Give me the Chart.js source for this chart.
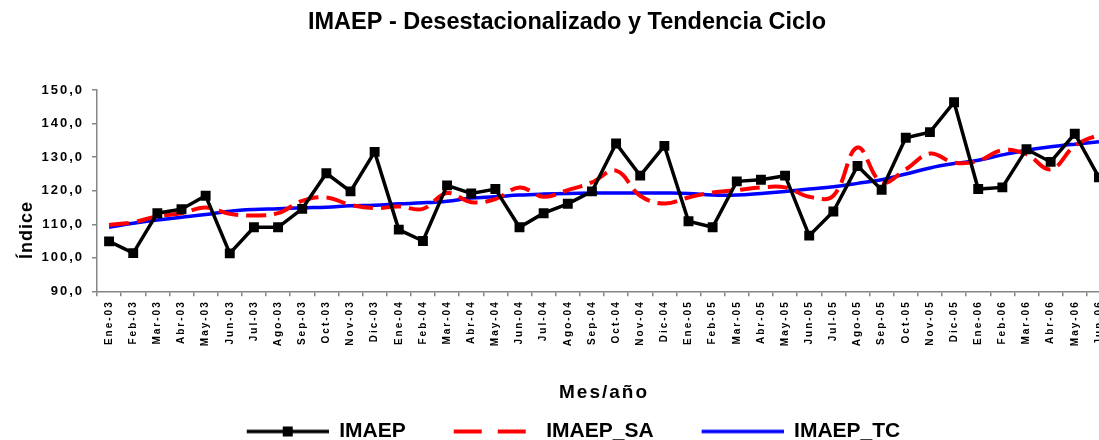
<!DOCTYPE html>
<html lang="es">
<head>
<meta charset="utf-8">
<title>IMAEP</title>
<script src="https://cdn.jsdelivr.net/npm/chart.js"></script>
<style>
  body { margin: 0; background: #fff; }
  #marco { width: 1099px; height: 440px; overflow: hidden; }
</style>
</head>
<body>
<div id="marco">
  <canvas id="g1" width="1134" height="452"></canvas>
</div>
<script>
 // Categorías (mes/año)
 const etiquetas = [
     'Ene-03', 'Feb-03', 'Mar-03', 'Abr-03', 'May-03', 'Jun-03', 'Jul-03', 'Ago-03', 'Sep-03', 'Oct-03', 'Nov-03', 'Dic-03',
     'Ene-04', 'Feb-04', 'Mar-04', 'Abr-04', 'May-04', 'Jun-04', 'Jul-04', 'Ago-04', 'Sep-04', 'Oct-04', 'Nov-04', 'Dic-04',
     'Ene-05', 'Feb-05', 'Mar-05', 'Abr-05', 'May-05', 'Jun-05', 'Jul-05', 'Ago-05', 'Sep-05', 'Oct-05', 'Nov-05', 'Dic-05',
     'Ene-06', 'Feb-06', 'Mar-06', 'Abr-06', 'May-06', 'Jun-06'
 ];

 // Series
 const imaep = [
     104.9, 101.4, 113.3, 114.5, 118.5, 101.3, 109.1, 109.1, 114.6, 125.2, 119.8, 131.6,
     108.4, 105.0, 121.6, 119.2, 120.5, 109.1, 113.3, 116.1, 119.8, 134.1, 124.5, 133.4,
     110.9, 109.1, 122.8, 123.3, 124.5, 106.6, 113.8, 127.4, 120.3, 135.8, 137.5, 146.4,
     120.5, 121.0, 132.4, 128.6, 137.0, 124.0
 ];
 const imaepSA = [
     109.8, 110.6, 112.4, 113.3, 115.0, 113.1, 112.6, 113.3, 117.0, 118.0, 115.8, 114.8,
     115.3, 114.6, 119.3, 116.6, 117.5, 121.0, 118.2, 120.2, 122.5, 126.0, 118.5, 116.2,
     118.0, 119.5, 120.2, 121.0, 121.0, 118.2, 118.5, 132.9, 122.5, 126.4, 131.1, 128.4,
     128.9, 132.1, 130.9, 126.4, 133.4, 136.8
 ];
 const imaepTC = [
     109.1, 110.3, 111.3, 112.1, 112.9, 113.9, 114.4, 114.6, 114.9, 115.1, 115.5, 115.7,
     116.1, 116.4, 116.9, 117.8, 118.2, 118.7, 119.0, 119.2, 119.3, 119.3, 119.3, 119.3,
     119.2, 118.7, 118.7, 119.2, 119.8, 120.5, 121.2, 122.2, 123.3, 125.0, 126.8, 128.1,
     129.1, 130.7, 132.1, 133.1, 133.9, 134.6
 ];

 // Eje Y
 const yMin = 90;
 const yMax = 150;
 const yPaso = 10;

 const fuente = "'Liberation Sans', Arial, sans-serif";
 Chart.defaults.font.family = fuente;
 Chart.defaults.color = '#000';

 // Muestras de la leyenda (línea + marcador)
 function muestra(tipo) {
     const c = document.createElement('canvas');
     c.width = 95;
     c.height = 14;
     const g = c.getContext('2d');
     g.lineWidth = 3.5;
     if (tipo === 'imaep') {
         g.strokeStyle = '#000';
         g.beginPath(); g.moveTo(13, 7); g.lineTo(95, 7); g.stroke();
         g.fillStyle = '#000';
         g.fillRect(49, 2, 10, 10);
     } else if (tipo === 'sa') {
         g.strokeStyle = '#ff0000';
         g.lineWidth = 4;
         g.setLineDash([28, 16]);
         g.beginPath(); g.moveTo(13, 7); g.lineTo(85, 7); g.stroke();
     } else {
         g.strokeStyle = '#0000ff';
         g.beginPath(); g.moveTo(13, 7); g.lineTo(95, 7); g.stroke();
     }
     return c;
 }
 const muestras = [muestra('imaep'), muestra('sa'), muestra('tc')];

 // Letras espaciadas en los ejes (como en Excel)
 function espaciado(scale) {
     if (scale._esp) return;
     const dibujar = scale.draw;
     scale.draw = function (area) {
         this.ctx.save();
         this.ctx.letterSpacing = '2px';
         dibujar.call(this, area);
         this.ctx.restore();
     };
     scale._esp = true;
 }

 // Título del eje Y
 const tituloY = {
     id: 'tituloY',
     afterDraw(chart) {
         const c = chart.ctx;
         c.save();
         c.translate(27, 230);
         c.rotate(-Math.PI / 2);
         c.font = 'bold 18px ' + fuente;
         c.letterSpacing = '1px';
         c.fillStyle = '#000';
         c.textAlign = 'center';
         c.textBaseline = 'middle';
         c.fillText('Índice', 0, 0);
         c.restore();
     }
 };

 const gris = '#868686';
 const ctx = document.getElementById('g1').getContext('2d');

 new Chart(ctx, {
     type: 'line',
     data: {
         labels: etiquetas,
         datasets: [
             {
                 label: 'IMAEP',
                 data: imaep,
                 borderColor: '#000',
                 backgroundColor: '#000',
                 borderWidth: 3.5,
                 pointStyle: 'rect',
                 pointRadius: 7,
                 pointBorderWidth: 0,
                 pointBackgroundColor: '#000',
                 tension: 0
             },
             {
                 label: 'IMAEP_SA',
                 data: imaepSA,
                 borderColor: '#ff0000',
                 backgroundColor: '#ff0000',
                 borderWidth: 4,
                 borderDash: [20, 8],
                 pointRadius: 0,
                 tension: 0.4
             },
             {
                 label: 'IMAEP_TC',
                 data: imaepTC,
                 borderColor: '#0000ff',
                 backgroundColor: '#0000ff',
                 borderWidth: 3.5,
                 pointRadius: 0,
                 tension: 0.4
             }
         ]
     },
     options: {
         responsive: false,
         animation: false,
         layout: { padding: 0 },
         plugins: {
             title: {
                 display: true,
                 text: 'IMAEP - Desestacionalizado y Tendencia Ciclo',
                 color: '#000',
                 font: { size: 23.5, weight: 'bold' },
                 padding: { top: 8, bottom: 54 }
             },
             legend: {
                 position: 'bottom',
                 labels: {
                     usePointStyle: true,
                     pointStyleWidth: 95,
                     padding: 35,
                     color: '#000',
                     font: { size: 21, weight: 'bold' },
                     generateLabels: function (chart) {
                         const base = Chart.defaults.plugins.legend.labels.generateLabels(chart);
                         return base.map((l, i) => ({ ...l, pointStyle: muestras[i] }));
                     }
                 }
             },
             tooltip: { enabled: false }
         },
         scales: {
             x: {
                 offset: true,
                 grid: { offset: true, drawOnChartArea: false, tickLength: 5, color: gris, lineWidth: 1.5 },
                 border: { color: gris, width: 1.5 },
                 ticks: {
                     autoSkip: false,
                     maxRotation: 90,
                     minRotation: 90,
                     padding: 4,
                     color: '#000',
                     font: { size: 10, weight: 'bold' }
                 },
                 title: {
                     display: true,
                     text: 'Mes/año',
                     color: '#000',
                     font: { size: 19, weight: 'bold' },
                     padding: { top: 43, bottom: -18 }
                 },
                 afterFit: function (s) {
                     s.paddingRight = 23;
                     espaciado(s);
                 }
             },
             y: {
                 min: yMin,
                 max: yMax,
                 grid: { drawOnChartArea: false, tickLength: 5, color: gris, lineWidth: 1.5 },
                 border: { color: gris, width: 1.5 },
                 ticks: {
                     stepSize: yPaso,
                     padding: 8,
                     color: '#000',
                     font: { size: 13, weight: 'bold' },
                     callback: function (value) {
                         return value.toFixed(1).replace('.', ','); // coma decimal
                     }
                 },
                 afterFit: function (s) {
                     s.width = 97;
                     espaciado(s);
                 }
             }
         }
     },
     plugins: [tituloY]
 });
</script>
</body>
</html>
